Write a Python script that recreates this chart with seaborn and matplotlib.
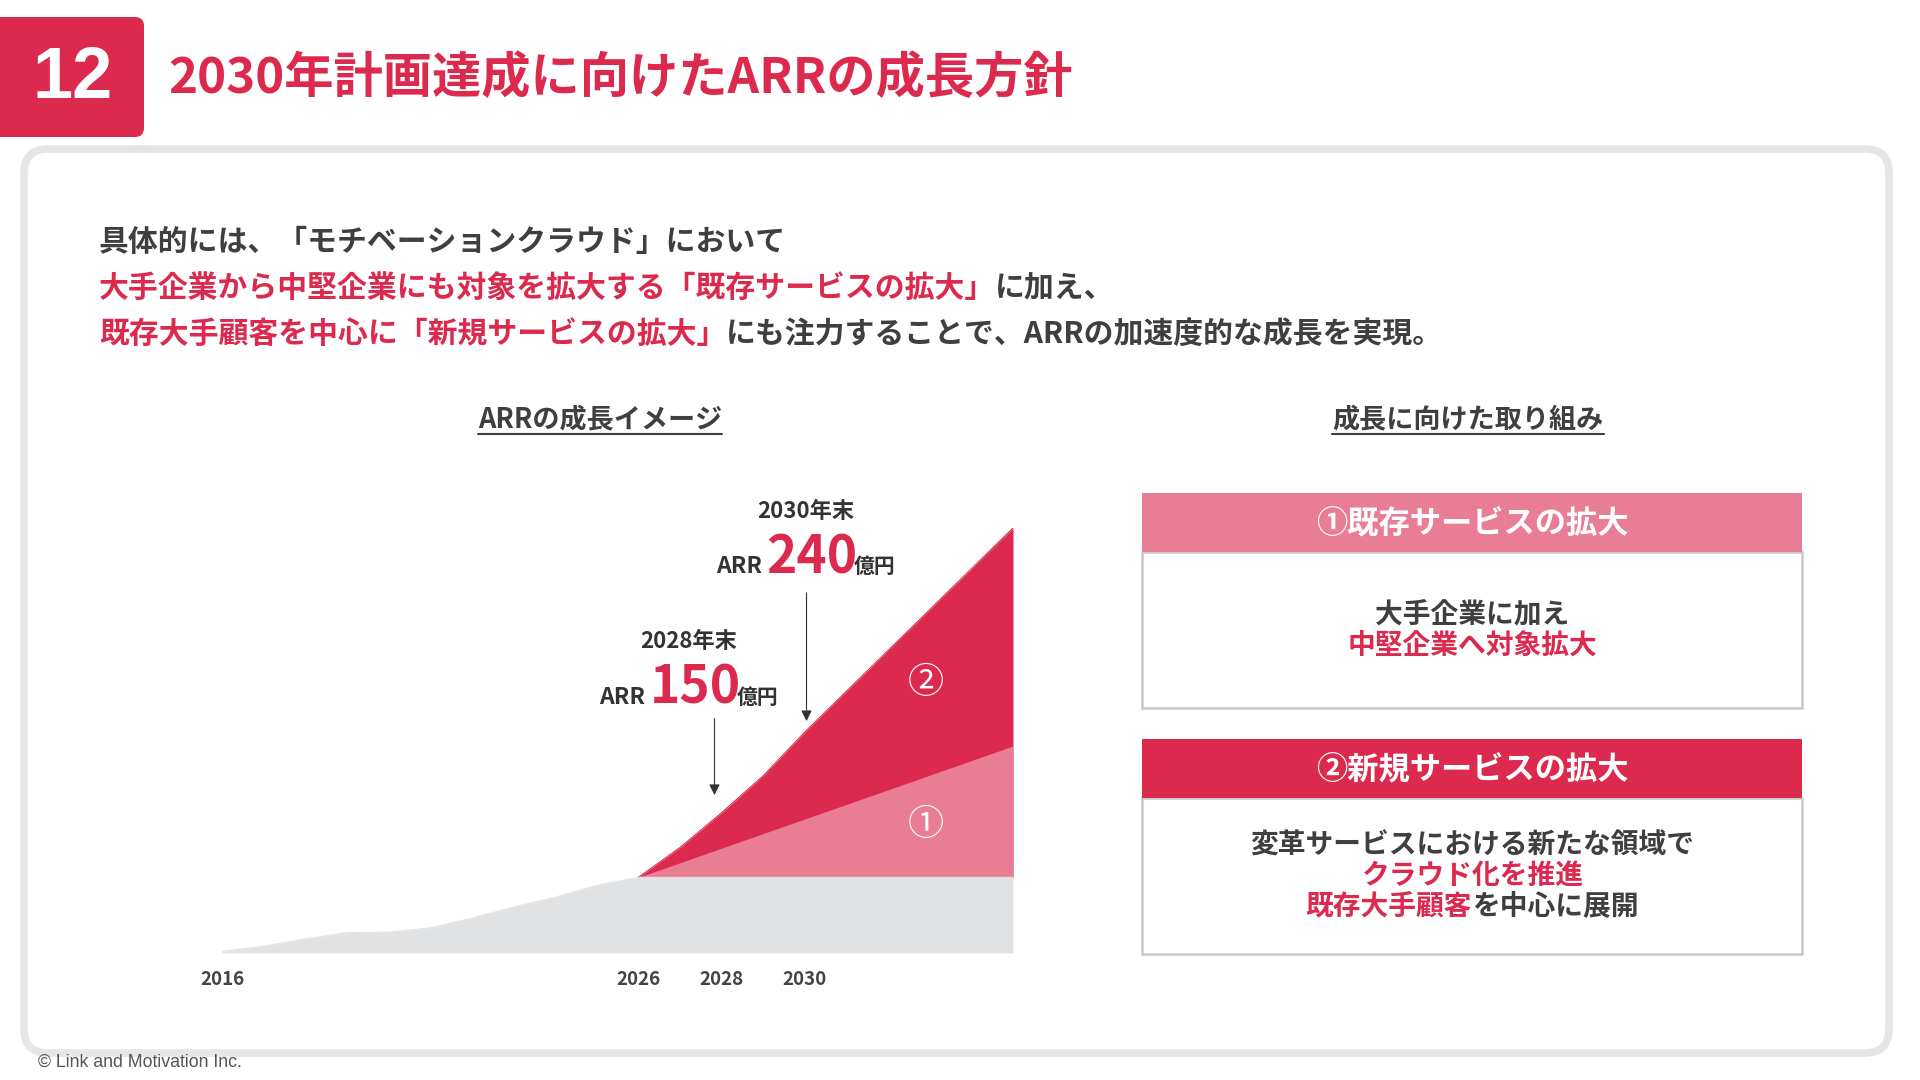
import matplotlib
matplotlib.use('Agg')
import matplotlib.pyplot as plt
import seaborn as sns
from matplotlib.patches import FancyBboxPatch, Rectangle

RED = '#dc2a4e'
PINK = '#e97d93'
GRAY_FILL = '#e1e2e4'
TXT = '#3f3f3f'

# chart data (image index, top of red area in 2035 = 100)
base_years = [2016, 2017, 2018, 2019, 2020, 2021, 2022, 2023, 2024, 2025, 2026, 2035]
base_arr = [0.4, 1.6, 3.3, 4.8, 4.9, 5.9, 8.2, 10.8, 13.1, 15.9, 17.8, 17.8]
existing_years = [2026, 2035]
existing_arr = [17.8, 48.7]
new_years = [2026, 2027, 2028, 2029, 2030, 2035]
new_arr = [17.8, 24.8, 33.0, 41.7, 52.0, 100.0]
tick_years = [2016, 2026, 2028, 2030]
tick_labels = ['2016', '2026', '2028', '2030']

# targets shown on the chart
target_labels = ['2028年末', '2030年末']
target_values = ['150', '240']
target_years = [2027.83, 2030.04]
arrow_from = [55.8, 85.4]
arrow_to = [36.5, 53.9]

title = '2030年計画達成に向けたARRの成長方針'
intro = [
    [('具体的には、「モチベーションクラウド」において', TXT)],
    [('大手企業から中堅企業にも対象を拡大する「既存サービスの拡大」', RED), ('に加え、', TXT)],
    [('既存大手顧客を中心に「新規サービスの拡大」', RED),
     ('にも注力することで、ARRの加速度的な成長を実現。', TXT)],
]
box_titles = ['①既存サービスの拡大', '②新規サービスの拡大']
box_lines = [
    [[('大手企業に加え', TXT)], [('中堅企業へ対象拡大', RED)]],
    [[('変革サービスにおける新たな領域で', TXT)], [('クラウド化を推進', RED)],
     [('既存大手顧客', RED), ('を中心に展開', TXT)]],
]

sns.set_theme(style='white')
plt.rcParams['font.family'] = ['Noto Sans CJK JP', 'DejaVu Sans']

fig = plt.figure(figsize=(19.2, 10.8), dpi=100)
bg = fig.add_axes([0, 0, 1, 1], zorder=0)
bg.set_xlim(0, 1920)
bg.set_ylim(1080, 0)
bg.axis('off')
rend = fig.canvas.get_renderer()


def rich_line(x, y, parts, size, ha='left', va='center', weight='bold', gaps=None):
    items = []
    for part in parts:
        s, c = part[0], part[1]
        fs = part[2] if len(part) > 2 else size
        items.append(bg.text(0, y, s, color=c, fontsize=fs, fontweight=weight, va=va, zorder=5))
    widths = [t.get_window_extent(rend).width for t in items]
    gaps = gaps or [0] * (len(items) - 1)
    total = sum(widths) + sum(gaps)
    x0 = x - total / 2 if ha == 'center' else x
    for i, (t, w) in enumerate(zip(items, widths)):
        t.set_x(x0)
        x0 += w + (gaps[i] if i < len(gaps) else 0)


# card
bg.add_patch(FancyBboxPatch((24, 149), 1865, 904, boxstyle='round,pad=0,rounding_size=24',
                            facecolor='white', edgecolor='#e6e6e6', lw=5.5, zorder=1))
# page number + title
bg.add_patch(FancyBboxPatch((-20, 17), 164, 120, boxstyle='round,pad=0,rounding_size=9',
                            facecolor=RED, edgecolor='none', zorder=2))
bg.text(73, 79, '12', color='white', fontsize=52, fontweight='bold',
        family='Liberation Sans', ha='center', va='center', zorder=3)
bg.text(168, 79, title, color=RED, fontsize=35.5, fontweight='bold', va='center', zorder=3)

for i, line in enumerate(intro):
    rich_line(99, 242 + i * 46, line, 21.5)

# section headings
for cx, s in [(600, 'ARRの成長イメージ'), (1468, '成長に向けた取り組み')]:
    t = bg.text(cx, 419, s, color=TXT, fontsize=19.5, fontweight='bold',
                ha='center', va='center', zorder=5)
    w = t.get_window_extent(rend).width
    bg.plot([cx - w / 2, cx + w / 2], [434, 434], color=TXT, lw=1.5, zorder=5)

# right boxes
box_tops = [493, 739]
for i in range(2):
    top = box_tops[i]
    bg.add_patch(Rectangle((1142, top + 59), 660, 156, facecolor='white',
                           edgecolor='#c8c8c8', lw=1.8, zorder=2))
    bg.add_patch(Rectangle((1142, top), 660, 59, facecolor=[PINK, RED][i],
                           edgecolor='none', zorder=3))
    bg.text(1472, top + 30, box_titles[i], color='white', fontsize=22.5,
            fontweight='bold', ha='center', va='center', zorder=5)
    lines = box_lines[i]
    mid = top + 59 + 78
    for j, line in enumerate(lines):
        y = mid + (j - (len(lines) - 1) / 2) * 30.5
        rich_line(1472, y, line, 20, ha='center')

# area chart
ax = fig.add_axes([222 / 1920, (1080 - 953) / 1080, 791 / 1920, 425 / 1080], zorder=2)
ax.patch.set_alpha(0)
plateau = base_arr[-1]
ax.fill_between(new_years, new_arr, plateau, color=RED, lw=0, zorder=1)
ax.fill_between(existing_years, existing_arr, plateau, color=PINK, lw=0, zorder=2)
ax.fill_between(base_years, base_arr, 0, color=GRAY_FILL, lw=0, zorder=3)
sns.lineplot(x=new_years, y=new_arr, ax=ax, color=RED, lw=0.8, zorder=1)
sns.lineplot(x=base_years, y=base_arr, ax=ax, color=GRAY_FILL, lw=0.8, zorder=3)
ax.set_xlim(2016, 2035)
ax.set_ylim(0, 100)
ax.set_xticks(tick_years)
ax.set_xticklabels(tick_labels, fontsize=13.5, fontweight='bold', color='#444444')
ax.tick_params(axis='x', length=0, pad=12)
ax.set_yticks([])
for sp in ax.spines.values():
    sp.set_visible(False)

ax.text(2032.9, 63.5, '②', color='white', fontsize=26, ha='center', va='center', zorder=5)
ax.text(2032.9, 30.0, '①', color='white', fontsize=26, ha='center', va='center', zorder=5)

for k in range(2):
    ax.annotate('', xy=(target_years[k], arrow_to[k]), xytext=(target_years[k], arrow_from[k]),
                arrowprops=dict(arrowstyle='-|>', color='#333333', lw=0.8, mutation_scale=16),
                zorder=5)

label_pos = [(689, 642, 704), (806, 512, 573)]
for k in range(2):
    cx, ly, base = label_pos[k]
    bg.text(cx, ly, target_labels[k], color='#333333', fontsize=16, fontweight='bold',
            ha='center', va='center', zorder=5)
    rich_line(cx, base, [('ARR', '#333333', 16.5), (target_values[k], RED, 37), ('億円', '#333333', 15)],
              16, ha='center', va='baseline', gaps=[4, -4])

bg.text(38, 1062, '© Link and Motivation Inc.', color='#555555', fontsize=12.8,
        family='Liberation Sans', va='center', zorder=5)

fig.savefig('out.png', dpi=100)
